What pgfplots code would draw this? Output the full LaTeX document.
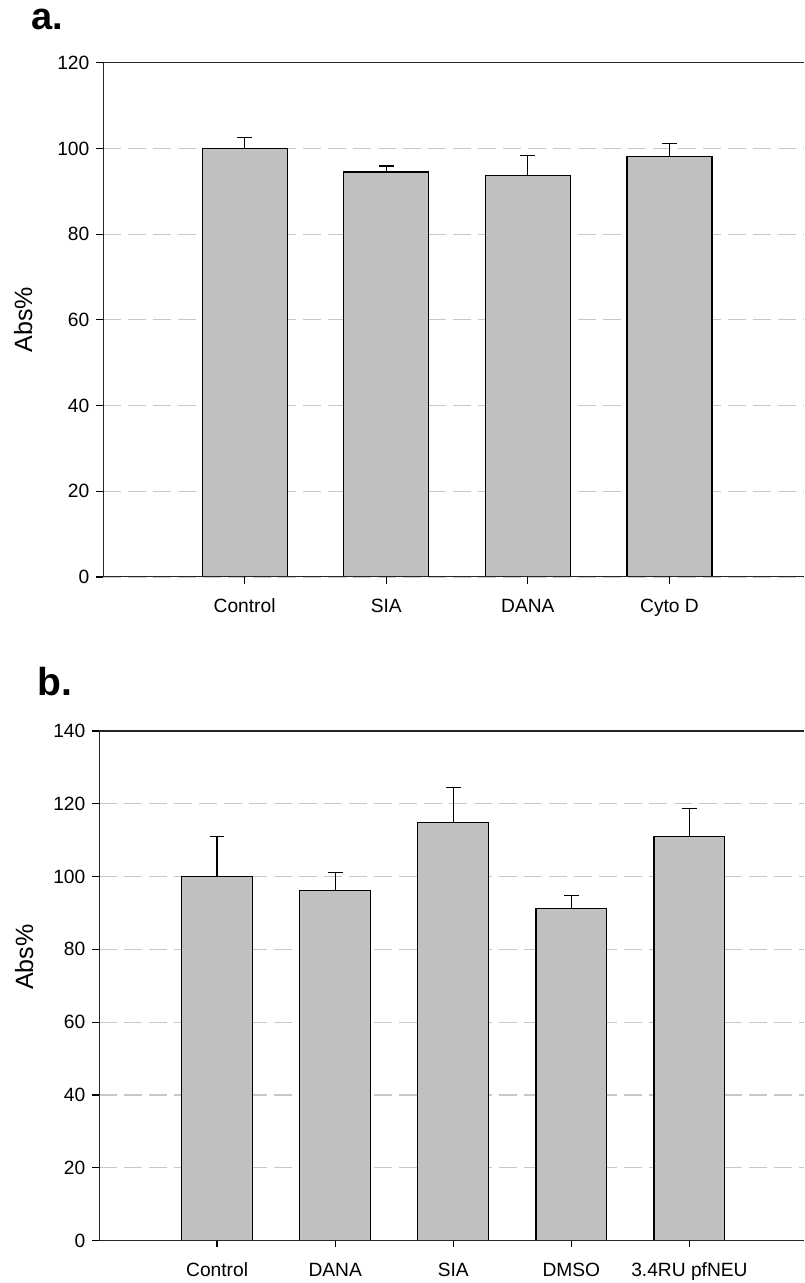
\documentclass[border=0pt]{standalone}
\usepackage{fontspec}
\setmainfont{Liberation Sans}
\usepackage{pgfplots}
\pgfplotsset{compat=1.18}
\definecolor{barfill}{RGB}{192,192,192}
\definecolor{gridgray}{RGB}{200,200,200}
\pgfplotsset{
  mystyle/.style={
    scale only axis,
    anchor=south west,
    ymin=0, xmin=0,
    axis line style={draw=none},
    tick align=outside,
    xtick pos=bottom, ytick pos=left,
    major tick length=3.3pt,
    tick style={black, line width=0.6pt},
    ymajorgrids,
    grid style={gridgray, line width=0.6pt, dash pattern=on 9pt off 3.5pt},
    xtick=data,
    ticklabel style={font=\fontsize{9.6}{11}\selectfont},
    xticklabel style={text height=1.6ex, text depth=0.4ex, yshift=-2.5pt},
    /pgf/number format/assume math mode=true,
    ylabel={Abs\%},
  },
  mybar/.style={
    ybar, bar width=0.6, fill=barfill, draw=black, line width=0.6pt,
    error bars/.cd, y dir=plus, y explicit,
    error bar style={line width=0.6pt, black},
    error mark options={rotate=90, mark size=3.7pt, line width=0.6pt, black},
  },
}
\begin{document}
\begin{tikzpicture}
\useasboundingbox (0,0) rectangle (402pt,641.5pt);
\node[anchor=base west, inner sep=0pt, font=\fontsize{19}{22}\selectfont\bfseries] at (15.5pt,626.5pt) {a.};
\node[anchor=base west, inner sep=0pt, font=\fontsize{19.5}{22}\selectfont\bfseries] at (18.5pt,293.6pt) {b.};
% panel a
\begin{axis}[mystyle,
  at={(51.5pt,353pt)},
  width=350.5pt, height=257.15pt,
  xmax=4.95, ymax=120,
  ytick={0,20,40,60,80,100,120},
  xticklabels={Control,SIA,DANA,Cyto D},
  every axis y label/.style={at={(axis description cs:-0.114,0.5)}, rotate=90, anchor=center, font=\fontsize{12.5}{15}\selectfont},
]
\addplot[mybar] coordinates {
  (1,100) +- (0,2.5)
  (2,94.5) +- (0,1.4)
  (3,93.6) +- (0,4.7)
  (4,98.2) +- (0,2.9)
};
\draw[line width=0.8pt, black!85] (rel axis cs:0,1) -- (rel axis cs:0,0) -- (rel axis cs:1,0);
\draw[line width=0.8pt, black!85] (rel axis cs:0,1) -- (rel axis cs:1,1);
\end{axis}
% panel b
\begin{axis}[mystyle,
  at={(49.5pt,21.25pt)},
  width=352.5pt, height=254.75pt,
  xmax=5.97, ymax=140,
  ytick={0,20,40,60,80,100,120,140},
  xticklabels={Control,DANA,SIA,DMSO,3.4RU pfNEU},
  every axis y label/.style={at={(axis description cs:-0.106,0.556)}, rotate=90, anchor=center, font=\fontsize{12.5}{15}\selectfont},
]
\addplot[mybar] coordinates {
  (1,100) +- (0,10.9)
  (2,96.2) +- (0,5.0)
  (3,114.8) +- (0,9.6)
  (4,91.3) +- (0,3.5)
  (5,111.1) +- (0,7.5)
};
\draw[line width=0.8pt, black!85] (rel axis cs:0,1) -- (rel axis cs:0,0) -- (rel axis cs:1,0);
\draw[line width=0.8pt, black!85] (rel axis cs:0,1) -- (rel axis cs:1,1);
\end{axis}
\end{tikzpicture}
\end{document}
